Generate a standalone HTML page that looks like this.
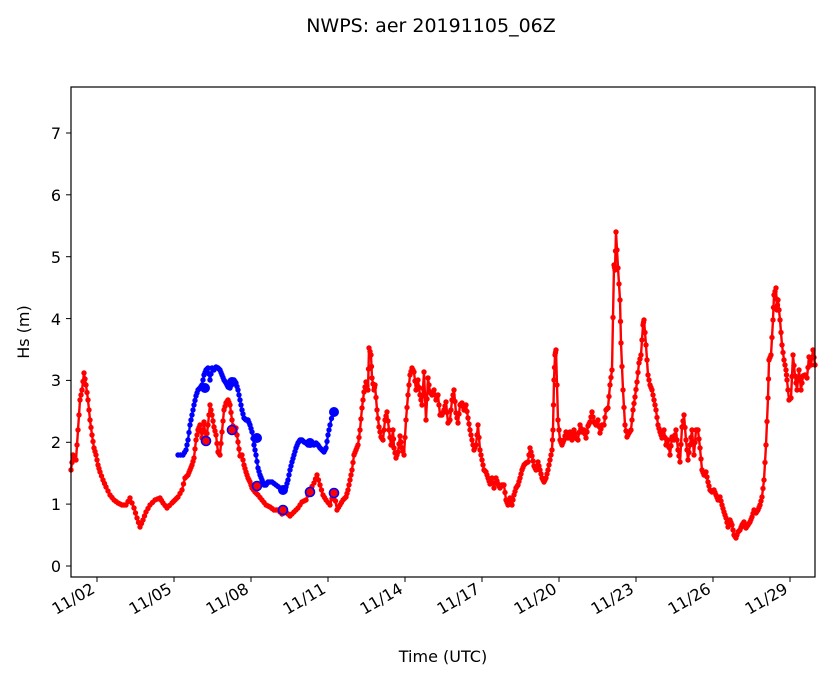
<!DOCTYPE html>
<html><head><style>body{margin:0;background:#fff}svg{display:block;font-family:"DejaVu Sans","Liberation Sans",sans-serif}</style></head>
<body>
<svg id="s" width="833" height="681" viewBox="0 0 833 681" xmlns="http://www.w3.org/2000/svg">
<rect width="833" height="681" fill="#fff"/>
<text x="431" y="32" font-size="19" text-anchor="middle">NWPS: aer 20191105_06Z</text>
<g id="data"></g>
<rect x="71" y="87" width="744" height="490" fill="none" stroke="#000" stroke-width="1.2"/>
<g font-size="16" text-anchor="end" stroke="#000">
<line x1="66" x2="71" y1="566" y2="566"/><line x1="66" x2="71" y1="504.1" y2="504.1"/><line x1="66" x2="71" y1="442.3" y2="442.3"/><line x1="66" x2="71" y1="380.4" y2="380.4"/><line x1="66" x2="71" y1="318.6" y2="318.6"/><line x1="66" x2="71" y1="256.7" y2="256.7"/><line x1="66" x2="71" y1="194.8" y2="194.8"/><line x1="66" x2="71" y1="133" y2="133"/>
</g>
<g font-size="16" text-anchor="end">
<text x="61" y="572">0</text><text x="61" y="510">1</text><text x="61" y="448">2</text><text x="61" y="386">3</text><text x="61" y="325">4</text><text x="61" y="263">5</text><text x="61" y="201">6</text><text x="61" y="139">7</text>
</g>
<g id="xt" font-size="16" text-anchor="end"></g>
<text x="443" y="662" font-size="16" text-anchor="middle">Time (UTC)</text>
<text transform="translate(29,332) rotate(-90)" font-size="16" text-anchor="middle">Hs (m)</text>
</svg>
<script>
var NS="http://www.w3.org/2000/svg";
function el(t,a,p){var e=document.createElementNS(NS,t);for(var k in a)e.setAttribute(k,a[k]);(p||document.getElementById('data')).appendChild(e);return e;}
var red=[71,470,73,455,76,460,78,430,80,400,82,390,84,373,86,385,88,400,90,420,92,435,94,448,96,455,98,465,100,472,103,480,106,487,110,495,114,500,118,503,122,505,126,505,130,498,134,508,137,518,140,527,143,520,146,512,150,505,155,500,160,498,163,503,167,508,172,503,175,500,178,497,182,490,185,478,188,475,190,470,192,465,194,458,196,440,198,430,200,425,202,438,204,422,206,442,208,425,210,405,212,415,214,427,216,435,218,452,220,455,222,432,224,410,226,403,228,400,230,405,232,420,234,432,236,428,238,442,240,456,242,455,244,465,246,472,248,478,250,482,252,488,255,492,258,495,262,500,266,505,270,507,274,510,278,510,282,514,286,512,290,516,294,512,298,508,302,502,306,500,310,490,314,483,317,475,320,485,323,495,326,500,330,505,334,492,337,510,340,505,343,500,346,497,348,490,350,480,352,470,354,455,356,450,358,445,360,430,362,408,364,392,366,382,368,390,369,348,371,355,372,378,374,390,375,385,377,410,379,427,381,437,383,440,385,420,387,412,389,430,391,445,393,430,394,448,396,458,398,452,400,436,402,448,404,455,406,420,408,395,410,375,412,368,414,372,416,390,418,380,420,395,422,405,424,372,426,420,428,378,430,392,432,395,434,390,436,400,438,395,440,415,442,415,444,410,446,402,448,423,450,420,452,400,454,390,456,413,458,423,460,405,462,403,464,410,466,405,468,418,470,430,472,440,474,450,476,445,478,425,480,450,482,460,484,470,486,472,488,478,490,484,492,478,494,488,496,478,498,484,500,488,502,485,504,485,506,500,508,505,510,498,512,505,514,495,516,488,518,485,520,478,522,470,524,465,526,463,528,462,530,448,532,456,534,466,536,470,538,462,540,470,542,478,544,482,546,478,548,470,550,460,552,450,553,430,554,380,555,355,556,350,558,420,560,440,562,445,564,440,566,432,568,438,570,432,572,440,574,430,576,438,578,440,580,425,582,432,584,430,586,438,588,426,590,422,592,412,594,422,596,425,598,420,600,433,602,425,604,425,606,410,608,408,610,385,612,370,614,265,615,270,616,232,618,268,620,300,621,343,623,390,625,425,627,437,629,433,631,430,633,410,635,397,637,382,639,363,641,355,643,325,644,320,646,345,648,375,650,385,652,390,654,400,656,410,658,425,660,432,662,438,664,430,666,445,668,440,670,455,672,437,674,440,676,430,678,450,680,462,682,427,684,415,686,440,688,460,690,445,692,430,694,455,696,430,698,430,700,448,702,470,704,475,706,472,708,482,710,490,712,492,714,490,716,495,718,500,720,497,722,505,724,512,726,518,728,527,730,520,732,525,734,535,736,538,738,532,740,530,742,525,744,522,746,528,748,525,750,522,752,517,754,510,756,513,758,510,760,505,762,497,764,480,766,445,768,398,769,360,771,355,773,320,774,295,776,288,777,310,778,300,780,320,782,345,784,360,786,370,787,380,789,400,791,398,793,355,795,376,797,390,799,370,801,390,803,376,805,375,807,378,809,357,811,365,813,350,815,365];
var blue=[178,455,183,455,186,450,188,440,190,425,192,415,194,405,196,396,198,390,200,388,202,385,204,375,206,370,208,368,210,380,212,368,214,370,216,367,218,368,220,370,222,375,224,380,226,383,228,387,230,388,232,383,234,380,236,383,238,390,240,400,242,410,244,418,246,420,248,420,250,425,252,432,254,445,256,455,258,468,260,475,262,480,264,485,266,485,268,482,272,482,276,485,280,488,284,490,286,487,288,480,290,470,292,462,294,455,296,448,298,443,300,440,302,440,304,442,306,443,308,445,310,442,312,444,314,445,316,443,318,445,320,448,322,450,324,452,326,448,328,435,330,425,333,412];
function series(d,c){var p="";for(var i=0;i<d.length;i+=2)p+=d[i]+","+d[i+1]+" ";
el('polyline',{points:p,fill:'none',stroke:c,'stroke-width':2.4,'stroke-linejoin':'round'});
for(var i=0;i<d.length;i+=2){el('circle',{cx:d[i],cy:d[i+1],r:2.7,fill:c});
if(i+3<d.length){var mx=(d[i]+d[i+2])/2,my=(d[i+1]+d[i+3])/2;el('circle',{cx:mx,cy:my,r:2.7,fill:c});}}}
series(red,'#f00');series(blue,'#00f');
[[205,388],[232,382],[257,438],[283,490],[310,443],[334,412]].forEach(function(a){el('circle',{cx:a[0],cy:a[1],r:5,fill:'#00f'});});
[[206,441],[232,430],[257,486],[283,510],[310,492],[334,493]].forEach(function(a){el('circle',{cx:a[0],cy:a[1],r:4.5,fill:'#f00',stroke:'#00f','stroke-width':1.6});});
var xt=document.getElementById('xt');
["11/02","11/05","11/08","11/11","11/14","11/17","11/20","11/23","11/26","11/29"].forEach(function(l,i){var x=97+77*i;
el('line',{x1:x,x2:x,y1:577,y2:582,stroke:'#000'},xt);
var t=el('text',{transform:'translate('+(x-1)+',592) rotate(-30)'},xt);t.textContent=l;});
</script>
</body></html>
